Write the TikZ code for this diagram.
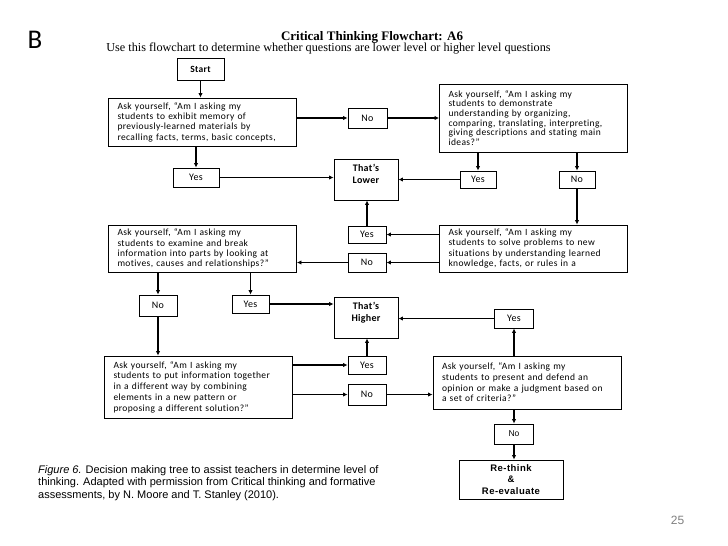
\documentclass[tikz,border=0pt]{standalone}
\usepackage{fontspec}
\setmainfont{Carlito}
\newfontfamily\timesf{Liberation Serif}
\newfontfamily\arialf{Liberation Sans}
\newfontfamily\qfont[LetterSpace=4,Ligatures=NoCommon]{Carlito}
\newfontfamily\lblfont[LetterSpace=3,Ligatures=NoCommon]{Carlito}
\usetikzlibrary{arrows.meta}
\begin{document}
\begin{tikzpicture}[x=1pt,y=-1pt,
 qbox/.style={draw, line width=0.9pt, inner xsep=9pt, inner ysep=2pt, align=left, text width=#1, font=\qfont\fontsize{9.5}{10.3}\selectfont},
 lbl/.style={draw, line width=0.9pt, inner sep=0pt, font=\lblfont\fontsize{10}{10}\selectfont},
 res/.style={draw, line width=0.9pt, inner sep=0pt, align=center, font=\lblfont\bfseries\fontsize{10}{12}\selectfont},
 arr/.style={-{Latex[length=4.5pt,width=4.5pt]}, line width=1.3pt},
 varr/.style={-{Latex[length=4.5pt,width=4.5pt]}, line width=1.8pt},
]
\useasboundingbox (0,0) rectangle (728,546);
\fill[white] (0,0) rectangle (728,546);

\node[font=\fontsize{27}{27}\selectfont] (B) at (35,40) {B};
\node[font=\timesf\bfseries\fontsize{13}{13}\selectfont] (title) at (372,37) {Critical Thinking Flowchart: A6};
\node[font=\timesf\fontsize{12.2}{12.2}\selectfont] (sub) at (328.5,49) {Use this flowchart to determine whether questions are lower level or higher level questions};

\node[lbl, font=\lblfont\bfseries\fontsize{9.5}{10}\selectfont, minimum width=47, minimum height=22] (start) at (200.5,69) {Start};

\node[qbox=170, minimum width=181, minimum height=48] (q1) at (202.5,122) {Ask yourself, “Am I asking my\\students to exhibit memory of\\previously-learned materials by\\recalling facts, terms, basic concepts,};
\node[lbl, minimum width=39, minimum height=20] (no1) at (367.5,118) {No};
\node[qbox=170, minimum width=181, minimum height=68, font=\qfont\fontsize{9.5}{9.7}\selectfont] (q2) at (533.5,118) {Ask yourself, “Am I asking my\\students to demonstrate\\understanding by organizing,\\comparing, translating, interpreting,\\giving descriptions and stating main\\ideas?”};
\node[lbl, minimum width=46, minimum height=19] (yes1) at (196,177.5) {Yes};
\node[res, minimum width=64, minimum height=41] (lower) at (366,179.5) {That’s\\Lower\\\mbox{}};
\node[lbl, minimum width=36, minimum height=17] (yes2) at (478,179.5) {Yes};
\node[lbl, minimum width=36, minimum height=17] (no2) at (577,179.5) {No};

\node[qbox=170, minimum width=181, minimum height=47] (q3) at (533.5,248.5) {Ask yourself, “Am I asking my\\students to solve problems to new\\situations by understanding learned\\knowledge, facts, or rules in a};
\node[lbl, minimum width=38, minimum height=17] (yes3) at (367,234.5) {Yes};
\node[lbl, minimum width=38, minimum height=19] (no3) at (367,262.5) {No};
\node[qbox=170, minimum width=181, minimum height=47] (q4) at (202.5,248.5) {Ask yourself, “Am I asking my\\students to examine and break\\information into parts by looking at\\motives, causes and relationships?”};

\node[lbl, minimum width=38, minimum height=21] (no4) at (158,305.5) {No};
\node[lbl, minimum width=37, minimum height=18] (yes4) at (250.5,304) {Yes};
\node[res, minimum width=64, minimum height=41] (higher) at (366,317.5) {That’s\\Higher\\\mbox{}};
\node[lbl, minimum width=39, minimum height=19] (yes6) at (514,318.5) {Yes};

\node[qbox=170, minimum width=181, minimum height=62, font=\qfont\fontsize{9.5}{10.8}\selectfont] (q5) at (198.5,387) {Ask yourself, “Am I asking my\\students to put information together\\in a different way by combining\\elements in a new pattern or\\proposing a different solution?”};
\node[lbl, minimum width=38, minimum height=18] (yes5) at (367,365) {Yes};
\node[lbl, minimum width=38, minimum height=21] (no5) at (367,394.5) {No};
\node[qbox=170, minimum width=180, minimum height=53, font=\qfont\fontsize{9.5}{10.6}\selectfont] (q6) at (527,382.5) {Ask yourself, “Am I asking my\\students to present and defend an\\opinion or make a judgment based on\\a set of criteria?”};
\node[lbl, font=\arialf\fontsize{8.5}{10}\selectfont, minimum width=39, minimum height=20] (no6) at (514,434) {No};
\node[res, font=\arialf\bfseries\addfontfeature{LetterSpace=5}\fontsize{9.5}{11.5}\selectfont, minimum width=104, minimum height=39] (rt) at (511,479.5) {Re-think\\\&\\Re-evaluate};

\node[anchor=north west, inner sep=0pt, align=left, font=\arialf\fontsize{11}{12.6}\selectfont] (cap) at (38,465) {\textit{Figure 6.} Decision making tree to assist teachers in determine level of\\thinking. Adapted with permission from Critical thinking and formative\\assessments, by N. Moore and T. Stanley (2010).};
\node[font=\arialf\fontsize{12}{12}\selectfont, text=black!50] (pg) at (677.5,520) {25};

% connectors
\draw[varr] (start.south) -- (start.south |- q1.north);
\draw[arr] (q1.east |- no1) -- (no1.west);
\draw[arr] (no1.east) -- (no1.east -| q2.west);
\draw[varr] (yes1.north |- q1.south) -- (yes1.north);
\draw[arr] (yes1.east) -- (yes1.east -| lower.west);
\draw[varr] (yes2.north |- q2.south) -- (yes2.north);
\draw[varr] (no2.north |- q2.south) -- (no2.north);
\draw[arr] (yes2.west) -- (yes2.west -| lower.east);
\draw[varr] (no2.south) -- (no2.south |- q3.north);
\draw[arr] (q3.west |- yes3) -- (yes3.east);
\draw[arr] (q3.west |- no3) -- (no3.east);
\draw[varr] (yes3.north) -- (yes3.north |- lower.south);
\draw[arr] (no3.west) -- (no3.west -| q4.east);
\draw[varr] (no4.north |- q4.south) -- (no4.north);
\draw[varr] (yes4.north |- q4.south) -- (yes4.north);
\draw[arr] (yes4.east) -- (yes4.east -| higher.west);
\draw[varr] (no4.south) -- (no4.south |- q5.north);
\draw[arr] (q5.east |- yes5) -- (yes5.west);
\draw[arr] (q5.east |- no5) -- (no5.west);
\draw[varr] (yes5.north) -- (yes5.north |- higher.south);
\draw[arr] (no5.east) -- (no5.east -| q6.west);
\draw[varr] (yes6.south |- q6.north) -- (yes6.south);
\draw[arr] (yes6.west) -- (yes6.west -| higher.east);
\draw[varr] (no6.north |- q6.south) -- (no6.north);
\draw[varr] (no6.south) -- (no6.south |- rt.north);
\end{tikzpicture}
\end{document}
